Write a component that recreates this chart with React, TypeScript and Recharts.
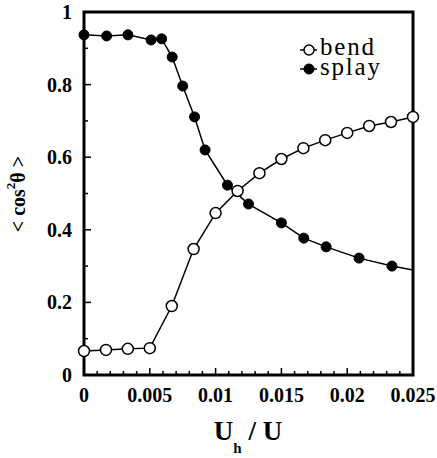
import React from 'react';
import { LineChart, Line, XAxis, YAxis, ReferenceArea } from 'recharts';

const bendX = [0, 0.00167, 0.00333, 0.005, 0.00667, 0.00833, 0.01, 0.01167, 0.01333, 0.015, 0.01667, 0.01833, 0.02, 0.02167, 0.02333, 0.025];
const bendY = [0.066, 0.069, 0.072, 0.074, 0.19, 0.347, 0.446, 0.507, 0.556, 0.595, 0.625, 0.647, 0.667, 0.686, 0.697, 0.711];

const splayX = [0, 0.00172, 0.00334, 0.0051, 0.0059, 0.0067, 0.0075, 0.0084, 0.0092, 0.0109, 0.0125, 0.015, 0.0167, 0.0184, 0.0209, 0.0234, 0.025];
const splayY = [0.937, 0.934, 0.937, 0.923, 0.926, 0.876, 0.796, 0.711, 0.62, 0.523, 0.471, 0.419, 0.377, 0.353, 0.322, 0.3, 0.289];

const xTicks = [0, 0.001, 0.002, 0.003, 0.004, 0.005, 0.006, 0.007, 0.008, 0.009, 0.01, 0.011, 0.012, 0.013, 0.014, 0.015, 0.016, 0.017, 0.018, 0.019, 0.02, 0.021, 0.022, 0.023, 0.024, 0.025];
const xLabels = ['0', '0.005', '0.01', '0.015', '0.02', '0.025'];
const yTicks = [0, 0.1, 0.2, 0.3, 0.4, 0.5, 0.6, 0.7, 0.8, 0.9, 1];
const yLabels = ['0', '0.2', '0.4', '0.6', '0.8', '1'];
const seriesNames = ['bend', 'splay'];

const bendData = bendX.map((x, i) => ({ x, y: bendY[i] }));
const splayData = splayX.map((x, i) => ({ x, y: splayY[i] }));

const serif = { fontFamily: "'Liberation Serif', serif" };
const serifBold = { fontFamily: "'Liberation Serif', serif", fontWeight: 700 };

const XTick = (props: any) => {
  const { x, y, payload } = props;
  const label = xLabels.find((l) => Math.abs(Number(l) - payload.value) < 1e-9);
  return (
    <g>
      <line x1={x} x2={x} y1={y} y2={y - (label ? 7 : 4)} stroke="#000" strokeWidth={1.5} />
      {label && (
        <text x={x} y={y + 27} textAnchor="middle" style={serifBold} fontSize={20} fill="#000">
          {label}
        </text>
      )}
    </g>
  );
};

const YTick = (props: any) => {
  const { x, y, payload } = props;
  const label = yLabels.find((l) => Math.abs(Number(l) - payload.value) < 1e-9);
  return (
    <g>
      <line x1={x} x2={x + (label ? 7 : 4)} y1={y} y2={y} stroke="#000" strokeWidth={1.5} />
      {label && (
        <text x={x - 12} y={y + 7} textAnchor="end" style={serifBold} fontSize={20} fill="#000">
          {label}
        </text>
      )}
    </g>
  );
};

const SplayDot = (props: any) => {
  const { cx, cy, index } = props;
  if (index === splayData.length - 1) return <g key={index} />;
  return <circle key={index} cx={cx} cy={cy} r={5} fill="#000" stroke="#000" strokeWidth={1} />;
};

export default function App() {
  return (
    <div style={{ position: 'absolute', left: 0, top: 0, width: 437, height: 458, background: '#fff' }}>
      <LineChart width={437} height={458} margin={{ top: 12, right: 24, left: 0, bottom: 0 }}>
        <XAxis
          dataKey="x"
          type="number"
          domain={[0, 0.025]}
          ticks={xTicks}
          interval={0}
          height={83}
          axisLine={false}
          tickLine={false}
          tickSize={0}
          tickMargin={0}
          tick={<XTick />}
          allowDuplicatedCategory={false}
        />
        <YAxis
          type="number"
          domain={[0, 1]}
          ticks={yTicks}
          interval={0}
          width={84}
          axisLine={false}
          tickLine={false}
          tickSize={0}
          tickMargin={0}
          tick={<YTick />}
        />
        <Line
          data={splayData}
          dataKey="y"
          stroke="#000"
          strokeWidth={1.5}
          dot={<SplayDot />}
          isAnimationActive={false}
        />
        <Line
          data={bendData}
          dataKey="y"
          stroke="#000"
          strokeWidth={1.5}
          dot={{ r: 5.5, fill: '#fff', stroke: '#000', strokeWidth: 1.5 }}
          isAnimationActive={false}
        />
        <ReferenceArea x1={0} x2={0.025} y1={0} y2={1} fill="none" stroke="#000" strokeWidth={3} />
        {/* legend */}
        <g>
          <line x1={300} x2={317} y1={50} y2={50} stroke="#000" strokeWidth={1.5} />
          <circle cx={309} cy={50} r={5} fill="#fff" stroke="#000" strokeWidth={1.5} />
          <line x1={300} x2={317} y1={69} y2={69} stroke="#000" strokeWidth={1.5} />
          <circle cx={309} cy={69} r={5} fill="#000" stroke="#000" strokeWidth={1} />
          <text x={320} y={55} style={serif} fontSize={25} letterSpacing={1.8} fill="#000">
            <tspan x={320} y={55}>{seriesNames[0]}</tspan>
            <tspan x={320} y={75}>{seriesNames[1]}</tspan>
          </text>
        </g>
        <text x={18} y={194} transform="rotate(-90 18 194)" textAnchor="middle" dominantBaseline="central" style={serifBold} fontSize={20} fill="#000">
          {'< cos'}
          <tspan dy={-8} fontSize={13}>2</tspan>
          <tspan dy={8}>{'θ >'}</tspan>
        </text>
        <text x={248} y={440} textAnchor="middle" style={serifBold} fontSize={27} fill="#000">
          U
          <tspan dy={13} fontSize={15}>h</tspan>
          <tspan dy={-13}>{' / U'}</tspan>
        </text>
      </LineChart>
    </div>
  );
}
